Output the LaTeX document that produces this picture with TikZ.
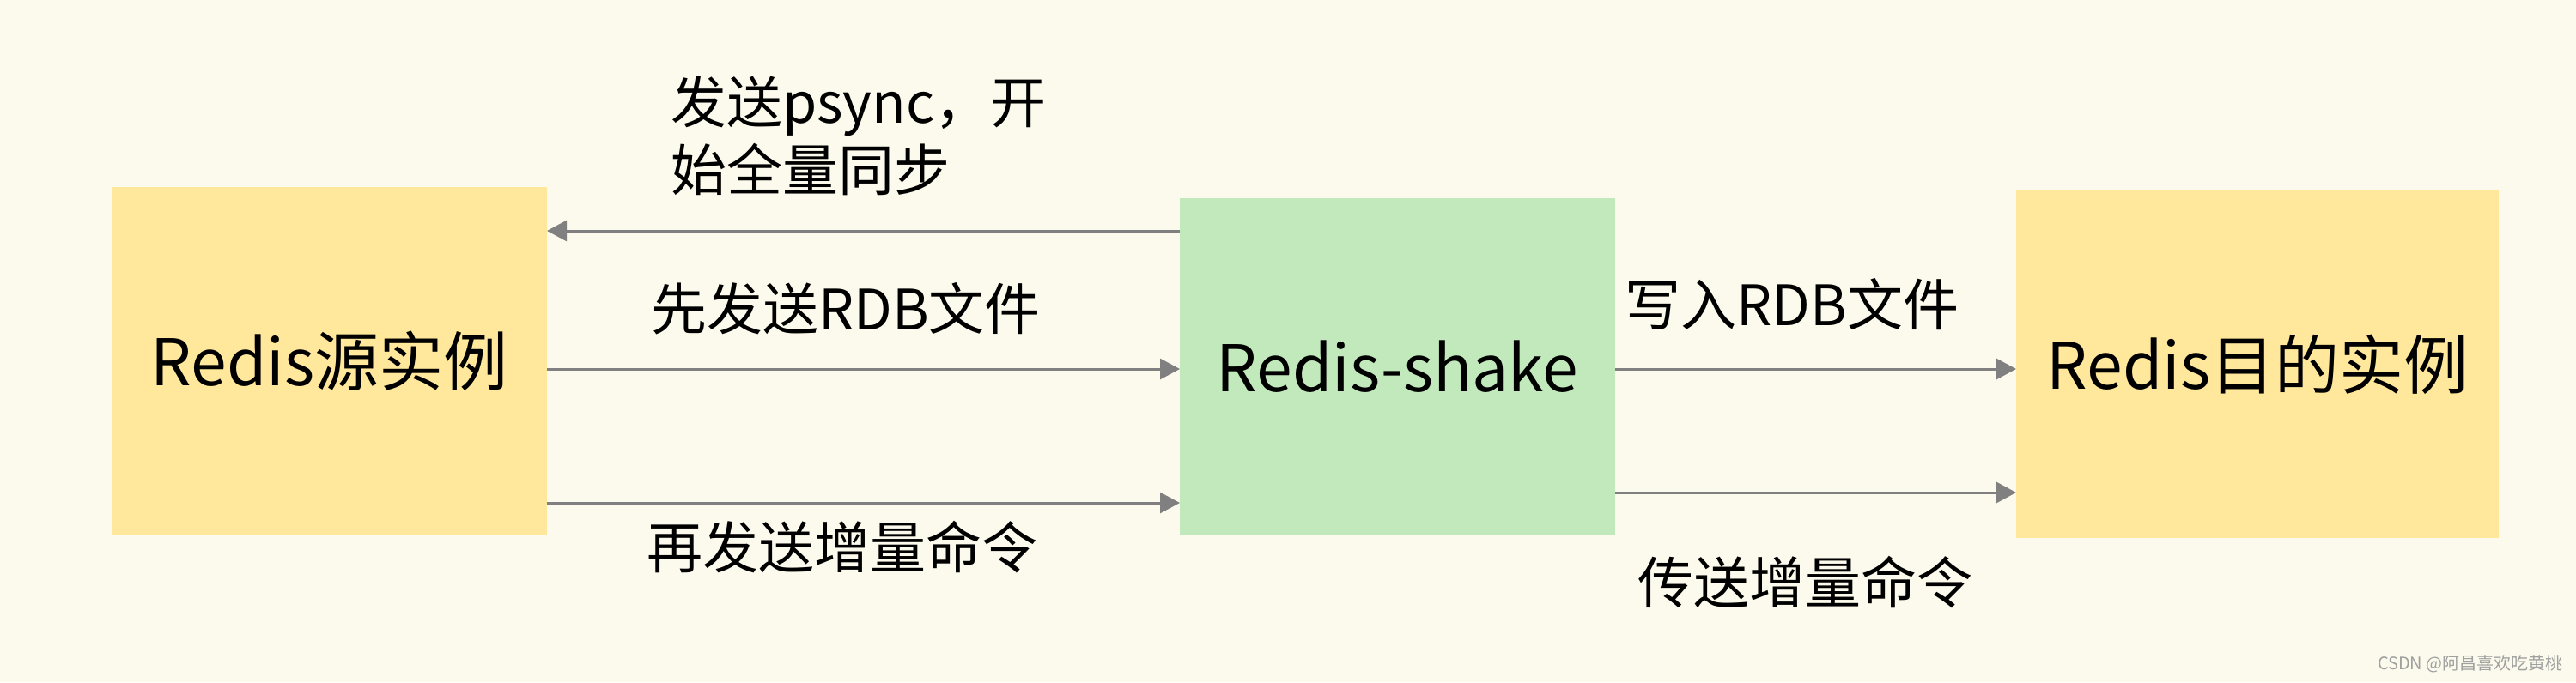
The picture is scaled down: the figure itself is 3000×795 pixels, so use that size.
\documentclass[tikz,border=0pt]{standalone}
\usepackage{fontspec}
\setmainfont{Noto Sans CJK SC}
\usetikzlibrary{arrows.meta}
\definecolor{bgc}{RGB}{252,250,236}
\definecolor{yelbox}{RGB}{255,231,155}
\definecolor{grnbox}{RGB}{194,233,188}
\definecolor{arrc}{RGB}{128,128,128}
\definecolor{wmc}{RGB}{160,160,160}
\tikzset{
  boxnode/.style={inner sep=0pt, outer sep=0pt, font=\fontsize{75}{82}\selectfont},
  arr/.style={draw=arrc, line width=3pt, -{Triangle[length=23pt,width=24pt]}},
  lbl/.style={inner sep=0pt, font=\fontsize{65}{79}\selectfont, align=left}
}
\begin{document}
\begin{tikzpicture}[x=1pt,y=-1pt]
\fill[bgc] (0,0) rectangle (3000,795);
\useasboundingbox (0,0) rectangle (3000,795);

\node[boxnode, fill=yelbox, minimum width=507pt, minimum height=405pt] (src) at (383.5,420.5) {Redis源实例};
\node[boxnode, fill=grnbox, minimum width=507pt, minimum height=392pt] (mid) at (1627.5,427) {Redis-shake};
\node[boxnode, fill=yelbox, minimum width=562pt, minimum height=405pt] (dst) at (2629,424.5) {Redis目的实例};

\coordinate (ya) at (0,269);
\coordinate (yb) at (0,430);
\coordinate (yc) at (0,586);
\coordinate (yd) at (0,574);

\draw[arr] (mid.west |- ya) -- (src.east |- ya);
\draw[arr] (src.east |- yb) -- (mid.west |- yb);
\draw[arr] (src.east |- yc) -- (mid.west |- yc);
\draw[arr] (mid.east |- yb) -- (dst.west |- yb);
\draw[arr] (mid.east |- yd) -- (dst.west |- yd);

\node[lbl, anchor=west] (l1) at (781,158) {发送psync，开\\始全量同步};
\node[lbl] (l2) at (985,360) {先发送RDB文件};
\node[lbl] (l3) at (981,638) {再发送增量命令};
\node[lbl] (l4) at (2087,355) {写入RDB文件};
\node[lbl] (l5) at (2102,679) {传送增量命令};
\node[inner sep=0pt, anchor=east, text=wmc, font=\fontsize{20}{22}\selectfont] (wm) at (2985,774) {CSDN @阿昌喜欢吃黄桃};
\end{tikzpicture}
\end{document}
